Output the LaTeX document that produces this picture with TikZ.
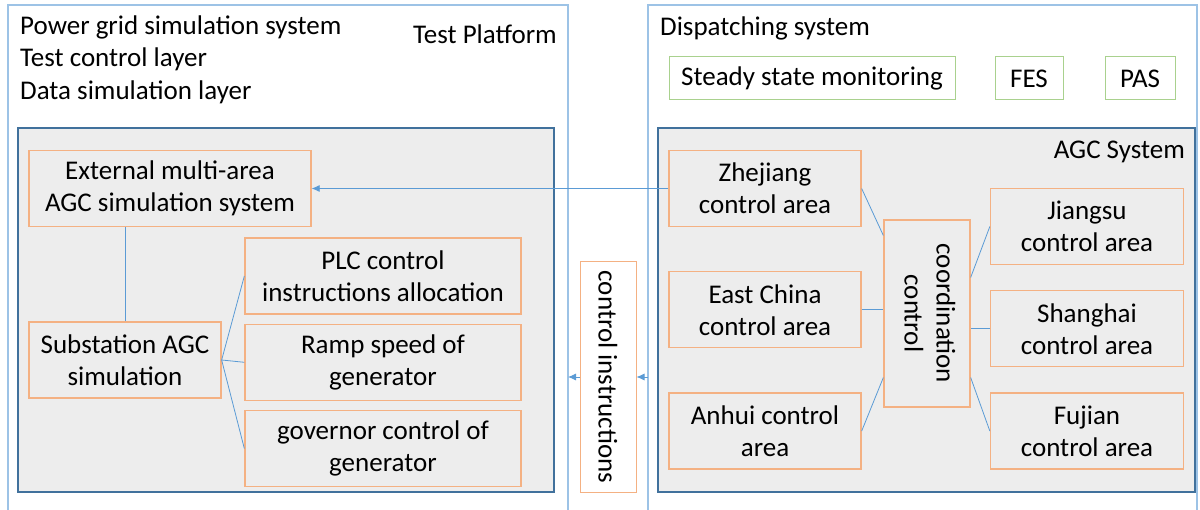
\documentclass[tikz,border=0pt]{standalone}
\usepackage{fontspec}
\setmainfont{Carlito}
\usepackage{graphicx}
\usetikzlibrary{arrows.meta,positioning}
\definecolor{linkblue}{HTML}{5B9BD5}
\definecolor{frameblue}{HTML}{9DC3E6}
\definecolor{panelblue}{HTML}{41719C}
\definecolor{panelgray}{HTML}{EDEDED}
\definecolor{boxorange}{HTML}{F4B183}
\definecolor{modgreen}{HTML}{A9D18E}

\begin{document}
\begin{tikzpicture}[
  x=1pt,y=-1pt,
  font=\fontsize{27}{32}\selectfont,
  frame/.style={draw=frameblue,line width=1.2pt},
  panel/.style={draw=panelblue,fill=panelgray,line width=1.2pt},
  area/.style={draw=boxorange,fill=panelgray,line width=1.3pt,align=center,inner sep=0pt,minimum height=76},
  order/.style={draw=boxorange,fill=white,line width=1pt,inner sep=0pt},
  module/.style={draw=modgreen,line width=1pt,inner sep=0pt,minimum height=43},
  label/.style={inner sep=0pt},
  link/.style={draw=linkblue,line width=0.8pt},
  arr/.style={link,-{Latex[length=8pt,width=7pt]}}
]
\useasboundingbox (0,0) rectangle (1200,510);

% two open frames running off the bottom edge
\draw[frame] (8,515) -- (8,5) -- (568,5) -- (568,515);
\draw[frame] (648,515) -- (648,5) -- (1197,5) -- (1197,515);
\draw[panel] (18,128) rectangle (554,492);
\draw[panel] (658,128) rectangle (1195,492);

% test platform side
\node[label,anchor=base west] (psys) at (20,35) {Power grid simulation system};
\node[label,anchor=base west] (tctl) at (20,67) {Test control layer};
\node[label,anchor=base west] (dsim) at (20,100) {Data simulation layer};
\node[label,anchor=base east] (tplat) at (557,44) {Test Platform};

\node[area,minimum width=282] (ext) at (170,188.5) {External multi-area\\AGC simulation system};
\node[area,minimum width=192] (sub) at (125,360) {Substation AGC\\simulation};
\node[area,minimum width=276] (plc) at (383,276) {PLC control\\instructions allocation};
\node[area,minimum width=276,below=9pt of plc] (ramp) {Ramp speed of\\generator};
\node[area,minimum width=276,below=9pt of ramp] (gov) {governor control of\\generator};

% dispatching side
\node[label,anchor=base west] (disp) at (660,36) {Dispatching system};
\node[module,minimum width=286] (ssm) at (812,78.5) {Steady state monitoring};
\node[module,minimum width=68] (fes) at (1029,78.5) {FES};
\node[module,minimum width=70] (pas) at (1140,78.5) {PAS};
\node[label,anchor=base east] (agc) at (1185,159) {AGC System};

\node[area,minimum width=192] (zhe) at (765,188.5) {Zhejiang\\control area};
\node[area,minimum width=192,below=44pt of zhe] (east) {East China\\control area};
\node[area,minimum width=192,below=44pt of east] (anh) {Anhui control\\area};
\node[area,minimum width=86,minimum height=187] (coord) at (927,313.5)
  {\rotatebox{-90}{\begin{tabular}{@{}c@{}}coordination\\control\end{tabular}}};
\node[area,minimum width=193] (jia) at (1087,226.5) {Jiangsu\\control area};
\node[area,minimum width=193,below=25pt of jia] (sha) {Shanghai\\control area};
\node[area,minimum width=193,below=25pt of sha] (fuj) {Fujian\\control area};

\node[order,minimum width=56,minimum height=230] (ci) at (608,377)
  {\rotatebox{-90}{control instructions}};

% connectors
\draw[link] (sub.north) -- (sub.north |- ext.south);
\draw[link] (sub.east) -- (plc.west);
\draw[link] (sub.east) -- (ramp.west);
\draw[link] (sub.east) -- (gov.west);

\draw[link] (zhe.east) -- ([yshift=78]coord.west);
\draw[link] (east.east) -- (east.east -| coord.west);
\draw[link] (anh.east) -- ([yshift=-64]coord.west);
\draw[link] (jia.west) -- ([yshift=36]coord.east);
\draw[link] (sha.west) -- (sha.west -| coord.east);
\draw[link] (fuj.west) -- ([yshift=-64]coord.east);

\draw[arr] (zhe.west) -- (ext.east);
\coordinate (dspedge) at (648,377);
\coordinate (tstedge) at (568,377);
\draw[arr] (dspedge) -- (ci.east);
\draw[arr] (ci.west) -- (tstedge);
\end{tikzpicture}
\end{document}
